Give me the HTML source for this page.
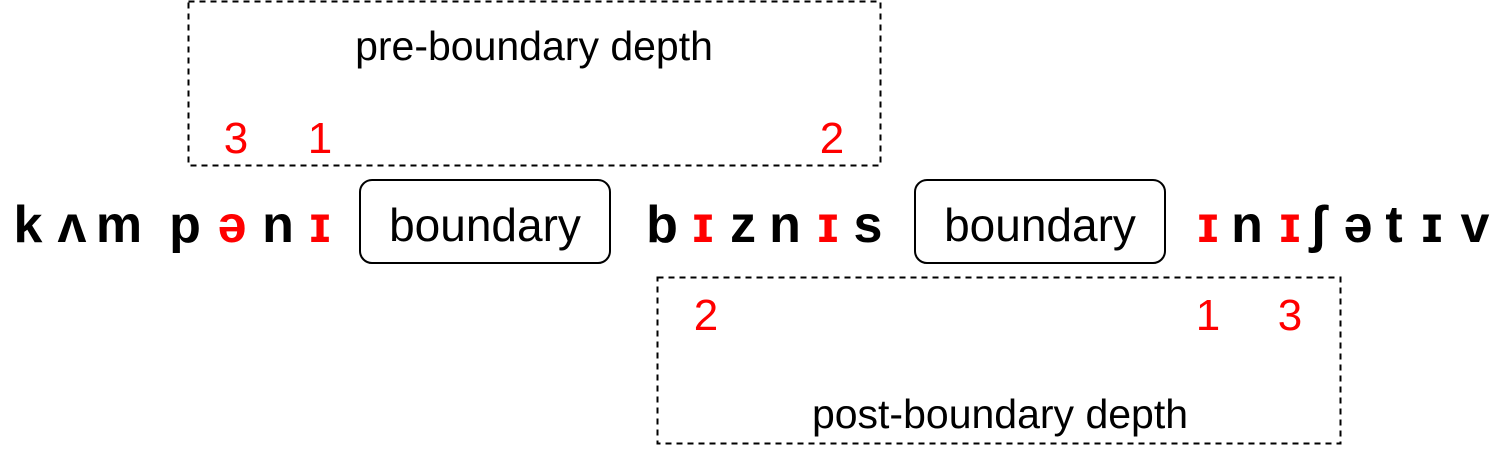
<!DOCTYPE html>
<html><head><meta charset="utf-8"><style>body{margin:0;background:#fff}</style></head><body>
<svg width="1499" height="446" xmlns="http://www.w3.org/2000/svg" font-family="Liberation Sans, DejaVu Sans, sans-serif">
<rect x="188.5" y="1.5" width="692" height="164" fill="none" stroke="#000" stroke-width="2" stroke-dasharray="6,5"/>
<rect x="657.5" y="277.5" width="683" height="166" fill="none" stroke="#000" stroke-width="2" stroke-dasharray="6,5"/>
<rect x="360" y="180" width="250" height="83" rx="12" fill="none" stroke="#000" stroke-width="2"/>
<rect x="915" y="180" width="250" height="83" rx="12" fill="none" stroke="#000" stroke-width="2"/>
<g font-size="46" text-anchor="middle">
<text x="485" y="241">boundary</text>
<text x="1040" y="241">boundary</text>
<text x="534" y="60" font-size="41">pre-boundary depth</text>
<text x="1000" y="428" font-size="41">post-boundary depth</text>
</g>
<g font-size="44" fill="#f00" text-anchor="middle">
<text x="236" y="153">3</text><text x="320" y="153">1</text><text x="832" y="153">2</text>
<text x="706" y="330">2</text><text x="1208" y="330">1</text><text x="1290" y="330">3</text>
</g>
<g font-size="52" font-weight="bold" text-anchor="middle">
<text x="28" y="242">k</text><text x="72" y="242">ʌ</text><text x="119" y="242">m</text><text x="185" y="242">p</text>
<text x="232" y="242" fill="#f00">ə</text><text x="278" y="242">n</text><text x="320" y="242" fill="#f00">ɪ</text>
<text x="662" y="242">b</text><text x="703" y="242" fill="#f00">ɪ</text><text x="743" y="242">z</text><text x="785" y="242">n</text><text x="828" y="242" fill="#f00">ɪ</text><text x="868" y="242">s</text>
<text x="1208" y="242" fill="#f00">ɪ</text><text x="1247" y="242">n</text><text x="1290" y="242" fill="#f00">ɪ</text><text x="1318" y="242">ʃ</text><text x="1358" y="242">ə</text><text x="1394" y="242">t</text><text x="1432" y="242">ɪ</text><text x="1475" y="242">v</text>
</g>
</svg>
</body></html>
